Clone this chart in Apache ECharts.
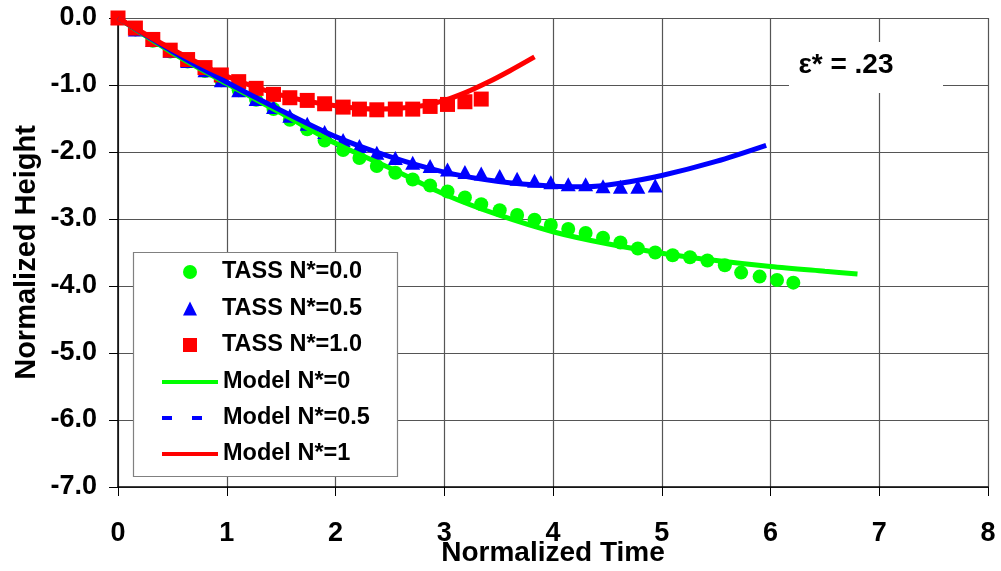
<!DOCTYPE html>
<html>
<head>
<meta charset="utf-8">
<script src="https://cdn.jsdelivr.net/npm/echarts@6/dist/echarts.min.js"></script>
<style>
  html, body { margin: 0; padding: 0; background: #fff; }
  #chart { width: 1001px; height: 571px; }
</style>
</head>
<body>
<div id="chart"></div>
<script>
// TASS sample times (shared by the three data sets)
var tassTime = [0, 0.16, 0.32, 0.48, 0.64, 0.80, 0.95, 1.11, 1.27, 1.43, 1.58, 1.74, 1.90, 2.07,
  2.22, 2.38, 2.55, 2.71, 2.87, 3.03, 3.19, 3.34, 3.51, 3.67, 3.83, 3.98, 4.14, 4.30, 4.46,
  4.62, 4.78, 4.94, 5.10, 5.26, 5.42, 5.58, 5.73, 5.90, 6.06, 6.21];

var tassN00 = [0, -0.17, -0.34, -0.50, -0.65, -0.79, -0.93, -1.08, -1.22, -1.36, -1.52, -1.66,
  -1.83, -1.97, -2.09, -2.21, -2.31, -2.41, -2.50, -2.59, -2.68, -2.78, -2.87, -2.94, -3.01,
  -3.09, -3.15, -3.21, -3.28, -3.35, -3.44, -3.50, -3.54, -3.57, -3.62, -3.69, -3.80, -3.86,
  -3.91, -3.95];
var tassN05 = [0, -0.17, -0.33, -0.49, -0.64, -0.78, -0.93, -1.08, -1.21, -1.33, -1.46, -1.58,
  -1.70, -1.82, -1.91, -2.01, -2.09, -2.16, -2.21, -2.26, -2.30, -2.32, -2.36, -2.40, -2.43,
  -2.45, -2.48, -2.48, -2.51, -2.52, -2.52, -2.50];
var tassN10 = [0, -0.15, -0.32, -0.48, -0.62, -0.74, -0.85, -0.95, -1.05, -1.14, -1.19, -1.23,
  -1.28, -1.33, -1.36, -1.37, -1.36, -1.36, -1.32, -1.29, -1.25, -1.21];

// model curves
var modelT0 = [0, 0.5, 1, 1.5, 2, 2.5, 3, 3.5, 4, 4.5, 5, 5.5, 6, 6.5, 6.8];
var modelN0 = [0, -0.52, -0.98, -1.42, -1.87, -2.24, -2.63, -2.94, -3.19, -3.37, -3.51, -3.62, -3.71, -3.78, -3.82];
var modelT05 = [0, 0.5, 1, 1.5, 2, 2.5, 3, 3.5, 4, 4.3, 4.6, 5, 5.5, 5.96];
var modelN05 = [0, -0.5, -0.96, -1.38, -1.77, -2.07, -2.30, -2.44, -2.51, -2.52, -2.47, -2.35, -2.14, -1.90];
var modelT1 = [0, 0.5, 1, 1.5, 2, 2.4, 2.8, 3.0, 3.2, 3.4, 3.6, 3.83];
var modelN1 = [0, -0.47, -0.87, -1.15, -1.31, -1.36, -1.31, -1.23, -1.11, -0.96, -0.79, -0.58];

function pairs(xs, ys) {
  var out = [];
  for (var i = 0; i < ys.length; i++) out.push([xs[i], ys[i]]);
  return out;
}

var FONT = 'Liberation Sans';
var legendText = { fontFamily: FONT, fontWeight: 'bold', fontSize: 23.5, color: '#000', lineHeight: 24 };
var chart = echarts.init(document.getElementById('chart'));

var option = {
  animation: false,
  grid: { left: 118, right: 13, top: 18, bottom: 84, containLabel: false, outerBoundsMode: 'none' },
  xAxis: {
    type: 'value',
    min: 0, max: 8, interval: 1,
    name: 'Normalized Time',
    nameLocation: 'middle',
    nameGap: 52,
    nameMoveOverlap: false,
    nameTextStyle: { fontFamily: FONT, fontWeight: 'bold', fontSize: 28, color: '#000' },
    axisLine: { onZero: false, lineStyle: { color: '#000', width: 1.5 } },
    axisTick: { show: true, length: 9, lineStyle: { color: '#000' } },
    axisLabel: { margin: 33, fontFamily: FONT, fontWeight: 'bold', fontSize: 27, color: '#000' },
    splitLine: { show: true, lineStyle: { color: '#555', width: 1.2 } }
  },
  yAxis: {
    type: 'value',
    min: -7, max: 0, interval: 1,
    name: 'Normalized Height',
    nameLocation: 'middle',
    nameGap: 77,
    nameMoveOverlap: false,
    nameTextStyle: { fontFamily: FONT, fontWeight: 'bold', fontSize: 29, color: '#000' },
    axisLine: { onZero: false, lineStyle: { color: '#000', width: 1.5 } },
    axisTick: { show: true, length: 9, lineStyle: { color: '#000' } },
    axisLabel: {
      margin: 21, fontFamily: FONT, fontWeight: 'bold', fontSize: 27, color: '#000',
      formatter: function (v) { return v.toFixed(1); }
    },
    splitLine: { show: true, lineStyle: { color: '#555', width: 1.2 } }
  },
  legend: [
    {
      orient: 'vertical',
      left: 183,
      top: 260,
      padding: 0,
      itemWidth: 14,
      itemHeight: 14,
      itemGap: 12.5,
      z: 10,
      textStyle: Object.assign({ padding: [0, 0, 0, 20] }, legendText),
      data: ['TASS N*=0.0', 'TASS N*=0.5', 'TASS N*=1.0']
    },
    {
      orient: 'vertical',
      left: 162,
      top: 370,
      padding: 0,
      itemWidth: 56,
      itemHeight: 4,
      itemGap: 12,
      z: 10,
      textStyle: legendText,
      data: [
        { name: 'Model N*=0', icon: 'rect' },
        { name: 'Model N*=0.5', icon: 'path://M0,0h10v4h-10z M30,0h10v4h-10z M56,0 L56,4 Z' },
        { name: 'Model N*=1', icon: 'rect' }
      ]
    }
  ],
  graphic: [
    {
      type: 'rect', z: 5,
      shape: { x: 133.5, y: 252.5, width: 264, height: 224 },
      style: { fill: '#fff', stroke: '#808080', lineWidth: 1.2 }
    },
    {
      type: 'rect', z: 5,
      shape: { x: 789, y: 42, width: 154, height: 51 },
      style: { fill: '#fff' }
    },
    {
      type: 'text', z: 6,
      x: 846, y: 65,
      style: {
        text: 'ε* = .23', fill: '#000', align: 'center', verticalAlign: 'middle',
        font: 'bold 28px "Liberation Sans"'
      }
    }
  ],
  series: [
    {
      name: 'TASS N*=0.0', type: 'scatter', symbol: 'circle', symbolSize: 14,
      itemStyle: { color: '#00ff00', opacity: 1 },
      data: pairs(tassTime, tassN00)
    },
    {
      name: 'TASS N*=0.5', type: 'scatter', symbol: 'triangle', symbolSize: [15, 14],
      itemStyle: { color: '#0000ff', opacity: 1 },
      data: pairs(tassTime, tassN05)
    },
    {
      name: 'TASS N*=1.0', type: 'scatter', symbol: 'rect', symbolSize: 15,
      itemStyle: { color: '#ff0000', opacity: 1 },
      data: pairs(tassTime, tassN10)
    },
    {
      name: 'Model N*=0', type: 'line', symbol: 'none', smooth: 0.3,
      lineStyle: { color: '#00ff00', width: 5 }, itemStyle: { color: '#00ff00' },
      data: pairs(modelT0, modelN0)
    },
    {
      name: 'Model N*=0.5', type: 'line', symbol: 'none', smooth: 0.3,
      lineStyle: { color: '#0000ff', width: 5 }, itemStyle: { color: '#0000ff' },
      data: pairs(modelT05, modelN05)
    },
    {
      name: 'Model N*=1', type: 'line', symbol: 'none', smooth: 0.3,
      lineStyle: { color: '#ff0000', width: 5 }, itemStyle: { color: '#ff0000' },
      data: pairs(modelT1, modelN1)
    }
  ]
};
chart.setOption(option);
</script>
</body>
</html>
